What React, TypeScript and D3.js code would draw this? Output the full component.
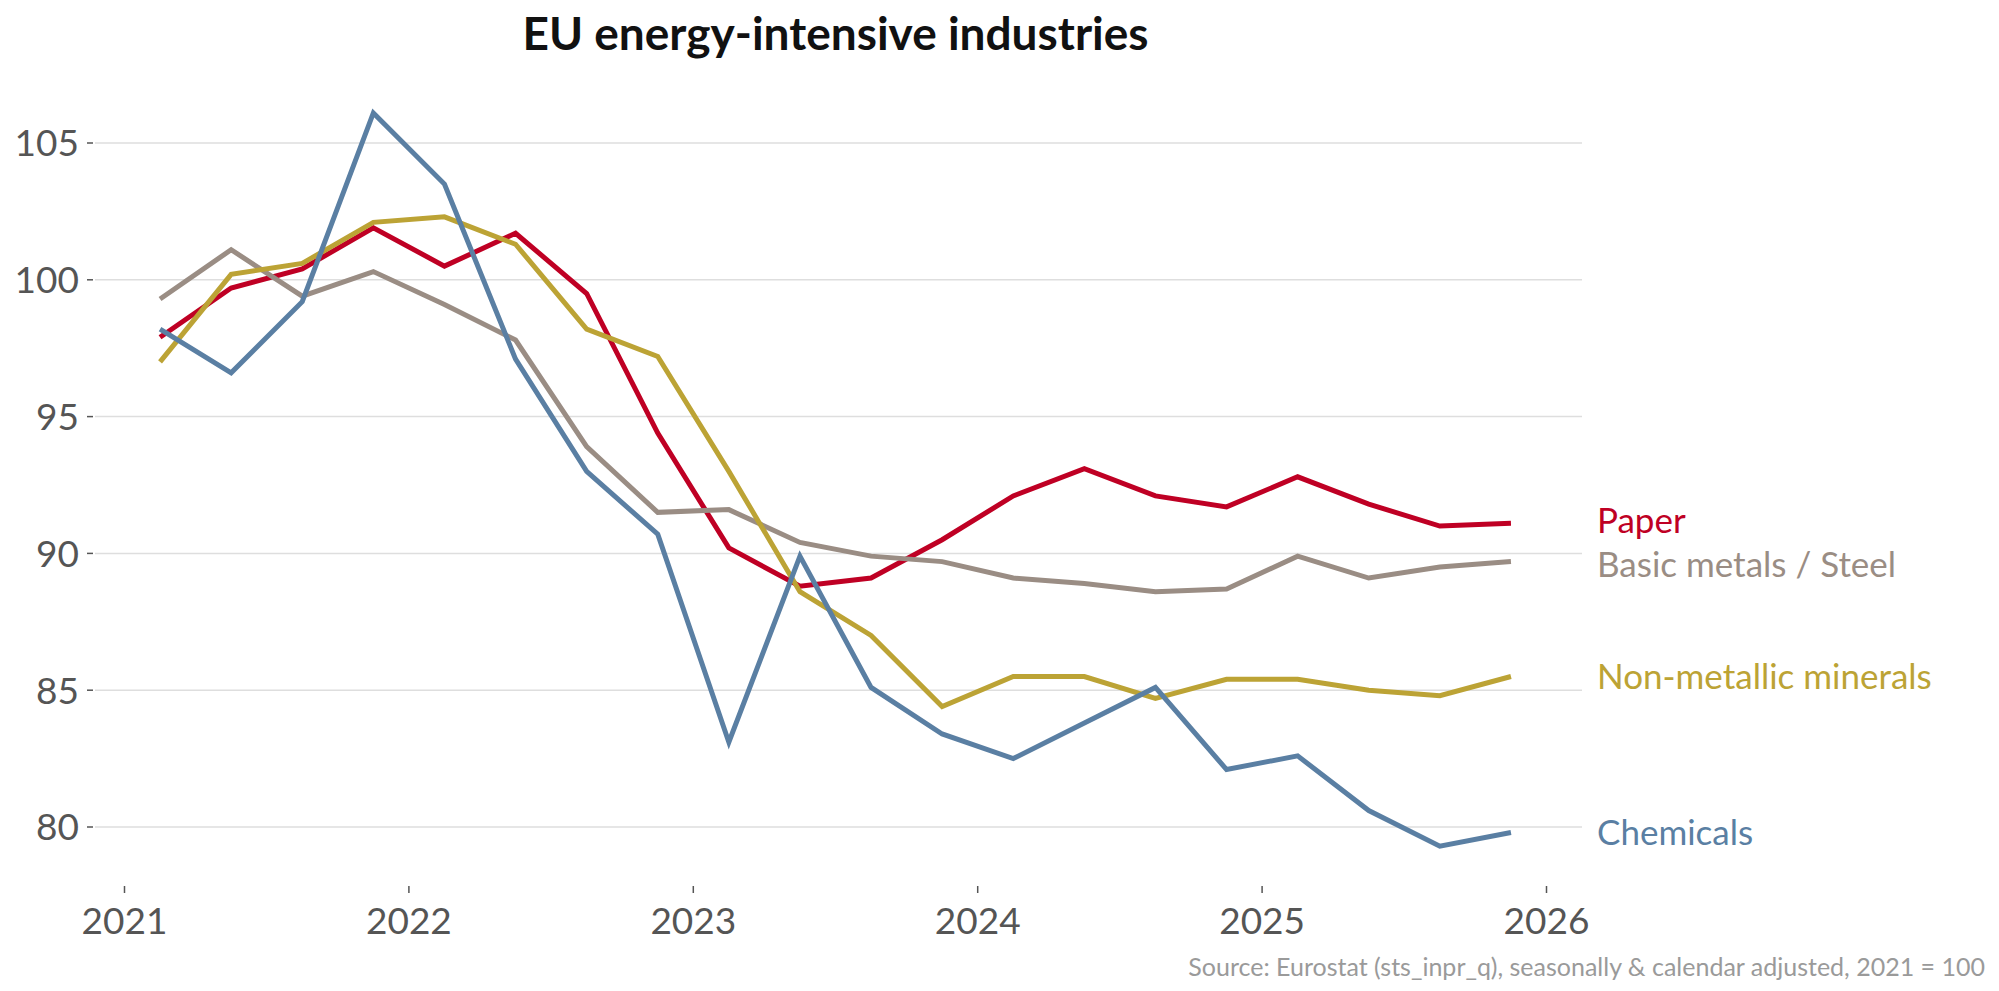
import React, { useRef, useEffect } from "react";
import * as d3 from "d3";

const quarters = [
  "2021-Q1", "2021-Q2", "2021-Q3", "2021-Q4",
  "2022-Q1", "2022-Q2", "2022-Q3", "2022-Q4",
  "2023-Q1", "2023-Q2", "2023-Q3", "2023-Q4",
  "2024-Q1", "2024-Q2", "2024-Q3", "2024-Q4",
  "2025-Q1", "2025-Q2", "2025-Q3", "2025-Q4",
];

const paper = [97.9, 99.7, 100.4, 101.9, 100.5, 101.7, 99.5, 94.4, 90.2, 88.8, 89.1, 90.5, 92.1, 93.1, 92.1, 91.7, 92.8, 91.8, 91.0, 91.1];
const basicMetals = [99.3, 101.1, 99.4, 100.3, 99.1, 97.8, 93.9, 91.5, 91.6, 90.4, 89.9, 89.7, 89.1, 88.9, 88.6, 88.7, 89.9, 89.1, 89.5, 89.7];
const nonMetallic = [97.0, 100.2, 100.6, 102.1, 102.3, 101.3, 98.2, 97.2, 93.0, 88.6, 87.0, 84.4, 85.5, 85.5, 84.7, 85.4, 85.4, 85.0, 84.8, 85.5];
const chemicals = [98.2, 96.6, 99.2, 106.1, 103.5, 97.1, 93.0, 90.7, 83.1, 89.9, 85.1, 83.4, 82.5, 83.8, 85.1, 82.1, 82.6, 80.6, 79.3, 79.8];

const seriesNames = ["Paper", "Basic metals / Steel", "Non-metallic minerals", "Chemicals"];
const seriesValues = [paper, basicMetals, nonMetallic, chemicals];
const seriesColors = ["#bf0024", "#9a8d84", "#bca335", "#5a7fa3"];
// small vertical nudges so the two close labels don't collide
const labelNudge = [-3, 3, 0, 0];

const yTicks = [80, 85, 90, 95, 100, 105];
const xTicks = [2021, 2022, 2023, 2024, 2025, 2026];

const W = 1999;
const H = 991;
const FONT = "Lato, 'Open Sans', sans-serif";

// quarter label -> mid-quarter fractional year
const qToYear = (q: string) => {
  const [y, qq] = q.split("-Q");
  return +y + (+qq - 0.5) / 4;
};

const App: React.FC = () => {
  const ref = useRef<SVGSVGElement | null>(null);

  useEffect(() => {
    const svg = d3.select(ref.current).attr("width", W).attr("height", H);
    svg.selectAll("*").remove();

    const x = d3.scaleLinear().domain([2021, 2026]).range([124.5, 1546.5]);
    const y = d3.scaleLinear().domain([80, 105]).range([827, 143]);

    // grid + y labels
    const gy = svg.append("g");
    gy.selectAll("line.grid")
      .data(yTicks)
      .join("line")
      .attr("x1", 95)
      .attr("x2", 1582)
      .attr("y1", (d) => y(d))
      .attr("y2", (d) => y(d))
      .attr("stroke", "#dedede")
      .attr("stroke-width", 1.5);
    gy.selectAll("line.tick")
      .data(yTicks)
      .join("line")
      .attr("x1", 87)
      .attr("x2", 93)
      .attr("y1", (d) => y(d))
      .attr("y2", (d) => y(d))
      .attr("stroke", "#555")
      .attr("stroke-width", 1.5);
    gy.selectAll("text")
      .data(yTicks)
      .join("text")
      .attr("x", 79)
      .attr("y", (d) => y(d))
      .attr("dy", "0.36em")
      .attr("text-anchor", "end")
      .attr("font-family", FONT)
      .attr("font-size", 37)
      .attr("fill", "#555")
      .text((d) => d);

    // x ticks
    const gx = svg.append("g");
    gx.selectAll("line")
      .data(xTicks)
      .join("line")
      .attr("x1", (d) => x(d))
      .attr("x2", (d) => x(d))
      .attr("y1", 886)
      .attr("y2", 893)
      .attr("stroke", "#555")
      .attr("stroke-width", 1.5);
    gx.selectAll("text")
      .data(xTicks)
      .join("text")
      .attr("x", (d) => x(d))
      .attr("y", 934)
      .attr("text-anchor", "middle")
      .attr("font-family", FONT)
      .attr("font-size", 37)
      .attr("fill", "#555")
      .text((d) => d);

    const line = d3
      .line<number>()
      .x((_, i) => x(qToYear(quarters[i])))
      .y((d) => y(d));

    seriesValues.forEach((vals, i) => {
      svg
        .append("path")
        .datum(vals)
        .attr("fill", "none")
        .attr("stroke", seriesColors[i])
        .attr("stroke-width", 5)
        .attr("d", line);
    });

    // end labels
    seriesValues.forEach((vals, i) => {
      svg
        .append("text")
        .attr("x", 1597)
        .attr("y", y(vals[vals.length - 1]) + labelNudge[i])
        .attr("dy", "0.35em")
        .attr("font-family", FONT)
        .attr("font-size", 35)
        .attr("fill", seriesColors[i])
        .text(seriesNames[i]);
    });

    svg
      .append("text")
      .attr("x", (x(2021) + x(2026)) / 2)
      .attr("y", 50)
      .attr("text-anchor", "middle")
      .attr("font-family", FONT)
      .attr("font-weight", 700)
      .attr("font-size", 46)
      .attr("fill", "#111")
      .text("EU energy-intensive industries");

    svg
      .append("text")
      .attr("x", 1985)
      .attr("y", 976)
      .attr("text-anchor", "end")
      .attr("font-family", FONT)
      .attr("font-size", 25)
      .attr("fill", "#9a9a9a")
      .text("Source: Eurostat (sts_inpr_q), seasonally & calendar adjusted, 2021 = 100");
  }, []);

  return (
    <svg
      ref={ref}
      style={{ position: "absolute", left: 0, top: 0, background: "#fff" }}
    ></svg>
  );
};

export default App;
